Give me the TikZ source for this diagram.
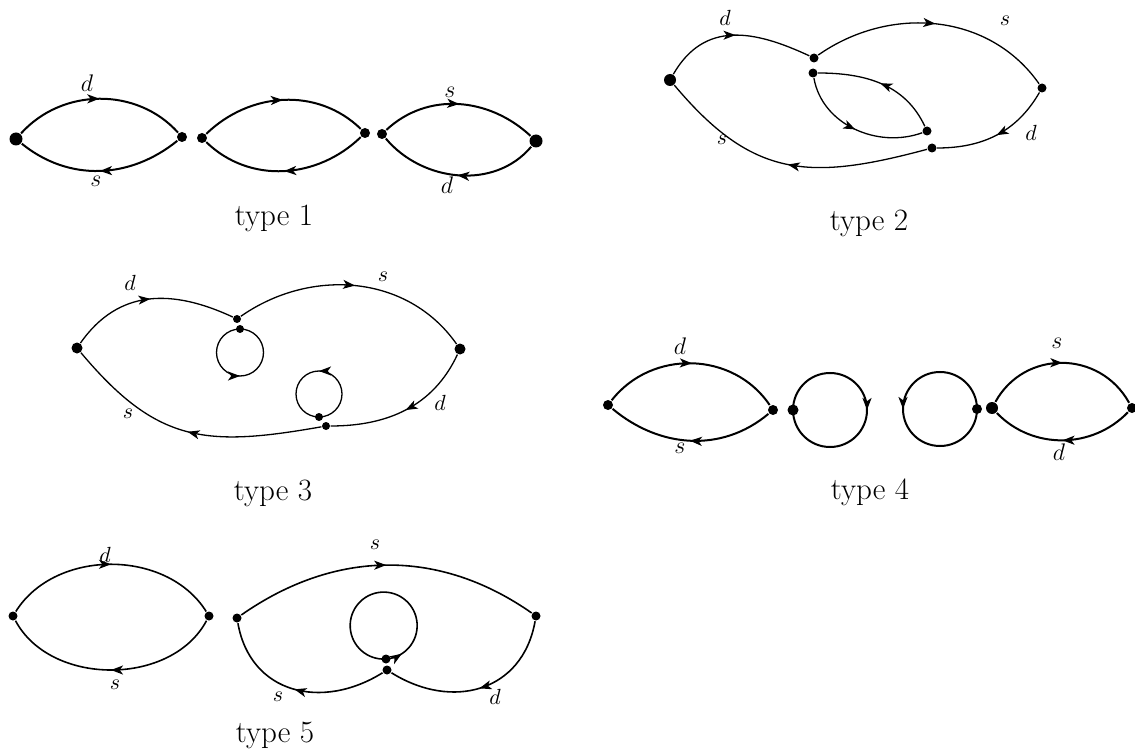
\documentclass[tikz,border=0pt]{standalone}
\usetikzlibrary{arrows.meta,decorations.markings}

\tikzset{
  vtx/.style={circle, fill=black, inner sep=0pt, minimum size=#1},
  vtx/.default=4.5pt,
  flow/.style={postaction={decorate}, decoration={markings,
    mark=at position #1 with {\arrow{Stealth[length=6pt,width=4.5pt,inset=1.6pt]}}}},
  flow/.default=0.5,
  lbl/.style={inner sep=0pt, font=\fontsize{10.95}{13}\selectfont},
  biglbl/.style={inner sep=0pt, font=\fontsize{12}{14}\selectfont},
  caption/.style={anchor=base, inner sep=0pt, font=\fontsize{15.5}{18}\selectfont},
}

\begin{document}
\begin{tikzpicture}[x=0.5pt, y=0.5pt]
  \useasboundingbox (0,0) rectangle (1135,-754);

  % type 1: three eyes in a row
  \begin{scope}[line width=1pt]
    \node[vtx=6.5pt] (a1) at (16,-139) {};
    \node[vtx=5pt]   (a2) at (182,-137) {};
    \node[vtx=5pt]   (b1) at (202,-138) {};
    \node[vtx=5pt]   (b2) at (365,-133) {};
    \node[vtx=5pt]   (c1) at (382,-134) {};
    \node[vtx=6.5pt] (c2) at (536,-141) {};
    \draw[flow] (a1) to[out=48,in=132] (a2);
    \draw[flow] (a2) to[out=-141,in=-39] (a1);
    \draw[flow] (b1) to[out=44,in=136] (b2);
    \draw[flow] (b2) to[out=-136,in=-44] (b1);
    \draw[flow] (c1) to[out=43,in=137] (c2);
    \draw[flow] (c2) to[out=-130,in=-50] (c1);
  \end{scope}
  \node[biglbl] (a1d) at (87,-83)  {$d$};
  \node[biglbl] (a1s) at (96,-181) {$s$};
  \node[biglbl] (c1s) at (450,-92) {$s$};
  \node[biglbl] (c1d) at (447,-185) {$d$};
  \node[caption] (cap1) at (274,-226) {type 1};

  % type 2: outer loop with an inner eye
  \begin{scope}[line width=0.65pt]
    \node[vtx=6pt] (p1) at (670,-80) {};
    \node[vtx]     (p2) at (814,-58) {};
    \node[vtx]     (p3) at (813,-73) {};
    \node[vtx]     (p4) at (1042,-88) {};
    \node[vtx]     (p5) at (927,-131) {};
    \node[vtx]     (p6) at (932,-148) {};
    \draw[flow] (p1) to[out=60,in=155,looseness=1.15] (p2);
    \draw[flow] (p2) to[out=35,in=125] (p4);
    \draw[flow] (p4) to[out=-120,in=0] (p6);
    \draw[flow] (p6) to[out=195,in=-50,looseness=1.2] (p1);
    \draw[flow] (p3) to[out=-80,in=200] (p5);
    \draw[flow] (p5) to[out=115,in=0] (p3);
  \end{scope}
  \node[lbl] (p1d) at (725,-18)   {$d$};
  \node[lbl] (p2s) at (1005,-21)  {$s$};
  \node[lbl] (p4d) at (1031,-133) {$d$};
  \node[lbl] (p6s) at (722,-140)  {$s$};
  \node[caption] (cap2) at (869,-231) {type 2};

  % type 3: outer loop with two small loops
  \begin{scope}[line width=0.65pt]
    \node[vtx=5.5pt] (q1) at (77,-348) {};
    \node[vtx=4pt]   (q2) at (237,-319) {};
    \node[vtx=4pt]   (q3) at (240,-329) {};
    \node[vtx=5.5pt] (q4) at (460,-349) {};
    \node[vtx=4pt]   (q5) at (319,-417) {};
    \node[vtx=4pt]   (q6) at (326,-426) {};
    \draw[flow] (q1) to[out=55,in=155,looseness=1.1] (q2);
    \draw[flow] (q2) to[out=35,in=125] (q4);
    \draw[flow] (q4) to[out=-115,in=0] (q6);
    \draw[flow] (q6) to[out=190,in=-50,looseness=1.2] (q1);
    \draw[flow] (q3.center) arc[start angle=90,delta angle=360,radius=23.5];
    \draw[flow] (q5.center) arc[start angle=270,delta angle=360,radius=23];
  \end{scope}
  \node[lbl] (q1d) at (130,-283) {$d$};
  \node[lbl] (q2s) at (383,-277) {$s$};
  \node[lbl] (q4d) at (440,-403) {$d$};
  \node[lbl] (q6s) at (128,-414) {$s$};
  \node[caption] (cap3) at (273,-500) {type 3};

  % type 4: two eyes and two loops
  \begin{scope}[line width=1pt]
    \node[vtx=5pt]   (r1) at (608,-405) {};
    \node[vtx=5pt]   (r2) at (773,-410) {};
    \node[vtx=5.5pt] (r3) at (793,-410) {};
    \node[vtx=5pt]   (r4) at (977,-409) {};
    \node[vtx=6pt]   (r5) at (992,-408) {};
    \node[vtx=5pt]   (r6) at (1132,-408) {};
    \draw[flow] (r1) to[out=52,in=124,looseness=1.05] (r2);
    \draw[flow] (r2) to[out=-140,in=-40] (r1);
    \draw[flow] (r3.center) arc[start angle=180,delta angle=-360,radius=37];
    \draw[flow] (r4.center) arc[start angle=0,delta angle=360,radius=37];
    \draw[flow] (r5) to[out=61,in=119,looseness=1.15] (r6);
    \draw[flow] (r6) to[out=-134,in=-46] (r5);
  \end{scope}
  \node[biglbl] (r1d) at (680,-346)  {$d$};
  \node[biglbl] (r1s) at (680,-448)  {$s$};
  \node[biglbl] (r5s) at (1057,-343) {$s$};
  \node[biglbl] (r5d) at (1059,-452) {$d$};
  \node[caption] (cap4) at (870,-499) {type 4};

  % type 5: eye plus a loop with a tadpole
  \begin{scope}[line width=0.8pt]
    \node[vtx] (u1) at (13,-616) {};
    \node[vtx] (u2) at (209,-616) {};
    \node[vtx] (u3) at (237,-618) {};
    \node[vtx] (u4) at (536,-616) {};
    \node[vtx] (u5) at (386,-659) {};
    \node[vtx] (u6) at (387,-670) {};
    \draw[flow] (u1) to[out=58,in=122] (u2);
    \draw[flow] (u2) to[out=-118,in=-62] (u1);
    \draw[flow] (u3) to[out=35,in=145] (u4);
    \draw[flow] (u4) to[out=-100,in=-32,looseness=1.2] (u6);
    \draw[flow] (u6) to[out=-148,in=-80,looseness=1.2] (u3);
    \draw[flow=0.08] (u5.center) arc[start angle=-86,delta angle=360,radius=33.5];
  \end{scope}
  \node[lbl] (u1d) at (105,-555) {$d$};
  \node[lbl] (u1s) at (115,-685) {$s$};
  \node[lbl] (u3s) at (375,-545) {$s$};
  \node[lbl] (u6s) at (278,-697) {$s$};
  \node[lbl] (u4d) at (495,-697) {$d$};
  \node[caption] (cap5) at (275,-742) {type 5};
\end{tikzpicture}
\end{document}
